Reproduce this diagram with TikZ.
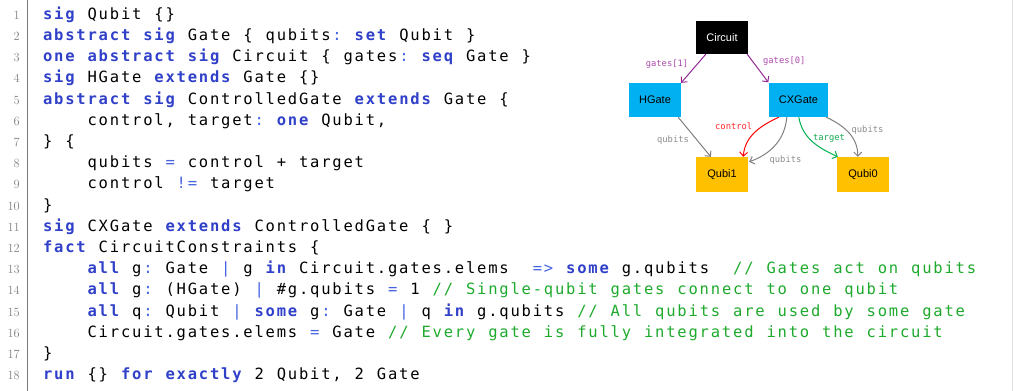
\documentclass[tikz,border=0pt]{standalone}
\usepackage{fontspec}
\setmonofont{DejaVu Sans Mono}
\newfontfamily\diagfont{Liberation Sans}
\newfontfamily\labfont{DejaVu Sans Mono}
\usetikzlibrary{arrows.meta,calc}
\definecolor{kwblue}{RGB}{48,64,200}
\definecolor{opblue}{RGB}{70,100,225}
\definecolor{cmgreen}{RGB}{30,170,45}
\definecolor{lnumgray}{RGB}{130,130,130}
\definecolor{rulegray}{RGB}{120,120,120}
\definecolor{cyanbox}{RGB}{0,176,240}
\definecolor{yellowbox}{RGB}{255,192,0}
\definecolor{edgepurple}{RGB}{150,40,150}
\definecolor{labpurple}{RGB}{175,75,175}
\definecolor{edgegray}{RGB}{128,128,128}
\definecolor{labgray}{RGB}{140,140,140}
\definecolor{edgered}{RGB}{255,0,0}
\definecolor{labred}{RGB}{255,40,40}
\definecolor{edgegreen}{RGB}{0,176,80}
\definecolor{labgreen}{RGB}{20,170,80}
\newlength\pitch
\setlength\pitch{11.13pt}
\def\monoend{\monoend}
\def\mono#1{\monoloop#1\monoend}
\def\monoloop#1{\ifx#1\monoend\else\makebox[\pitch][c]{#1}\expandafter\monoloop\fi}
\newcommand\kw[1]{{\color{kwblue}\bfseries\mono{#1}}}
\newcommand\op[1]{{\color{opblue}\mono{#1}}}
\newcommand\cm[1]{{\color{cmgreen}\mono{#1}}}
\newcommand\pl[1]{\mono{#1}}
\newcommand\lineY[1]{19.3+(#1-1)*21.2}
\begin{document}
\begin{tikzpicture}[x=1pt,y=-1pt,
  code/.style={anchor=base west, inner sep=0pt, font=\ttfamily\fontsize{15.5}{18}\selectfont},
  lnum/.style={anchor=base east, inner sep=0pt, text=lnumgray, font=\fontsize{12.5}{14}\selectfont},
  box/.style={inner sep=0pt, minimum height=34pt, font=\diagfont\fontsize{11}{13}\selectfont, text=black},
  lab/.style={inner sep=0pt, font=\labfont\fontsize{8.8}{10}\selectfont},
  arr/.style={line width=1pt, -{Straight Barb[length=4pt,width=8pt]}}
]
\useasboundingbox (0,0) rectangle (1013,391);
\fill[white] (0,0) rectangle (1013,391);
\draw[rulegray, line width=1.3pt] (27.5,0) -- (27.5,391);
\draw[gray!25, line width=0.8pt] (1012.4,0) -- (1012.4,391);
% line numbers
\foreach \n in {1,...,18}{
  \node[lnum] (n\n) at (20,{\lineY{\n}}) {\n};
}
% code
\node[code] (c1)  at (42,{\lineY{1}})  {\kw{sig}\pl{~Qubit~\{\}}};
\node[code] (c2)  at (42,{\lineY{2}})  {\kw{abstract~sig}\pl{~Gate~\{~qubits}\op{:}\pl{~}\kw{set}\pl{~Qubit~\}}};
\node[code] (c3)  at (42,{\lineY{3}})  {\kw{one~abstract~sig}\pl{~Circuit~\{~gates}\op{:}\pl{~}\kw{seq}\pl{~Gate~\}}};
\node[code] (c4)  at (42,{\lineY{4}})  {\kw{sig}\pl{~HGate~}\kw{extends}\pl{~Gate~\{\}}};
\node[code] (c5)  at (42,{\lineY{5}})  {\kw{abstract~sig}\pl{~ControlledGate~}\kw{extends}\pl{~Gate~\{}};
\node[code] (c6)  at (42,{\lineY{6}})  {\pl{~~~~control,~target}\op{:}\pl{~}\kw{one}\pl{~Qubit,}};
\node[code] (c7)  at (42,{\lineY{7}})  {\pl{\}~\{}};
\node[code] (c8)  at (42,{\lineY{8}})  {\pl{~~~~qubits~}\op{=}\pl{~control~+~target}};
\node[code] (c9)  at (42,{\lineY{9}})  {\pl{~~~~control~}\op{!=}\pl{~target}};
\node[code] (c10) at (42,{\lineY{10}}) {\pl{\}}};
\node[code] (c11) at (42,{\lineY{11}}) {\kw{sig}\pl{~CXGate~}\kw{extends}\pl{~ControlledGate~\{~\}}};
\node[code] (c12) at (42,{\lineY{12}}) {\kw{fact}\pl{~CircuitConstraints~\{}};
\node[code] (c13) at (42,{\lineY{13}}) {\pl{~~~~}\kw{all}\pl{~g}\op{:}\pl{~Gate~}\op{|}\pl{~g~}\kw{in}\pl{~Circuit.gates.elems~~}\op{=>}\pl{~}\kw{some}\pl{~g.qubits~~}\cm{//~Gates~act~on~qubits}};
\node[code] (c14) at (42,{\lineY{14}}) {\pl{~~~~}\kw{all}\pl{~g}\op{:}\pl{~(HGate)~}\op{|}\pl{~\#g.qubits~}\op{=}\pl{~1~}\cm{//~Single-qubit~gates~connect~to~one~qubit}};
\node[code] (c15) at (42,{\lineY{15}}) {\pl{~~~~}\kw{all}\pl{~q}\op{:}\pl{~Qubit~}\op{|}\pl{~}\kw{some}\pl{~g}\op{:}\pl{~Gate~}\op{|}\pl{~q~}\kw{in}\pl{~g.qubits~}\cm{//~All~qubits~are~used~by~some~gate}};
\node[code] (c16) at (42,{\lineY{16}}) {\pl{~~~~Circuit.gates.elems~}\op{=}\pl{~Gate~}\cm{//~Every~gate~is~fully~integrated~into~the~circuit}};
\node[code] (c17) at (42,{\lineY{17}}) {\pl{\}}};
\node[code] (c18) at (42,{\lineY{18}}) {\kw{run}\pl{~\{\}~}\kw{for~exactly}\pl{~2~Qubit,~2~Gate}};
% diagram nodes
\node[box, fill=black, text=white, minimum width=52pt, minimum height=33pt] (Circuit) at (722,37.5) {Circuit};
\node[box, fill=cyanbox, minimum width=52pt] (HGate) at (655,100) {HGate};
\node[box, fill=cyanbox, minimum width=59pt] (CXGate) at (798.5,100) {CXGate};
\node[box, fill=yellowbox, minimum width=52pt, minimum height=35pt] (Qubi1) at (722,174.5) {Qubi1};
\node[box, fill=yellowbox, minimum width=52pt, minimum height=35pt] (Qubi0) at (863,174.5) {Qubi0};
% edges
\draw[arr, edgepurple] ($(Circuit.south west)+(10,0)$) -- (HGate.north east);
\draw[arr, edgepurple] ($(Circuit.south east)+(-1,0)$) -- ($(CXGate.north west)+(-0.5,-0.5)$);
\draw[arr, edgegray] ($(HGate.south east)+(-3,0)$) -- ($(Qubi1.north west)+(15,0)$);
\draw[arr, edgered] ($(CXGate.south west)+(10,0)$) to[out=205,in=85] ($(Qubi1.north east)+(-5,0)$);
\draw[arr, edgegray] ($(CXGate.south west)+(18,0)$) to[out=-95,in=20] ($(Qubi1.north east)+(1,5)$);
\draw[arr, edgegreen] ($(CXGate.south west)+(30,0)$) to[out=-80,in=155] ($(Qubi0.north west)+(1,0)$);
\draw[arr, edgegray] ($(CXGate.south east)+(-2,0)$) to[out=-25,in=90] ($(Qubi0.north west)+(21,0)$);
% edge labels
\node[lab, text=labpurple] (l1) at (667,64) {gates[1]};
\node[lab, text=labpurple] (l2) at (784.3,60.7) {gates[0]};
\node[lab, text=labgray] (l3) at (673,139.6) {qubits};
\node[lab, text=labred] (l4) at (733.7,126.3) {control};
\node[lab, text=labgray] (l5) at (785.5,160.3) {qubits};
\node[lab, text=labgreen] (l6) at (829,138) {target};
\node[lab, text=labgray] (l7) at (867.5,130) {qubits};
\end{tikzpicture}
\end{document}
